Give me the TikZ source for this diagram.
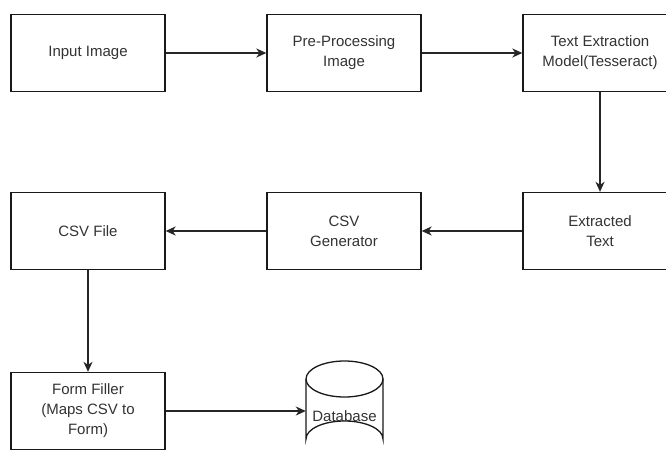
\documentclass[tikz,border=0pt]{standalone}
\usepackage{fontspec}
\setmainfont{Liberation Sans}
\usetikzlibrary{arrows.meta}
\begin{document}
\begin{tikzpicture}[x=1pt,y=-1pt,
  box/.style={draw=black!90, line width=1.3pt, minimum width=154pt, minimum height=77pt, inner sep=0pt, align=center, text=black!80, font=\fontsize{15}{20}\selectfont},
  lbl/.style={inner sep=0pt, align=center, text=black!80, font=\fontsize{15}{20}\selectfont},
  shp/.style={draw=black!90, line width=1.3pt},
  arr/.style={draw=black!85, line width=1.4pt, -{Stealth[length=10pt,width=9pt,inset=3pt]}}]
\useasboundingbox (0,0) rectangle (666,458);
\clip (0,0) rectangle (666,458);
\fill[white] (0,0) rectangle (666,458);
% row 1
\node[box] (input) at (88,53) {Input Image};
\node[box] (pre) at (344,53) {Pre-Processing\\Image};
\node[box] (tess) at (600,53) {Text Extraction\\Model(Tesseract)};
% row 2
\node[box] (ext) at (600,231) {Extracted\\Text};
\node[box] (gen) at (344,231) {CSV\\Generator};
\node[box] (csv) at (88,231) {CSV File};
% row 3
\node[box] (form) at (88,411) {Form Filler\\(Maps CSV to\\Form)};
% database cylinder
\draw[shp] (306,379) -- (306,439) arc[start angle=180, end angle=360, x radius=38.5, y radius=18] -- (383,379);
\draw[shp] (344.5,379) ellipse[x radius=38.5, y radius=18];
\node[lbl, minimum width=77pt, minimum height=60pt] (db) at (344.5,416) {Database};
% connectors
\draw[arr] (input) -- (pre);
\draw[arr] (pre) -- (tess);
\draw[arr] (tess) -- (ext);
\draw[arr] (ext) -- (gen);
\draw[arr] (gen) -- (csv);
\draw[arr] (csv) -- (form);
\draw[arr] (form.east) -- (form.east -| db.west);
\end{tikzpicture}
\end{document}
